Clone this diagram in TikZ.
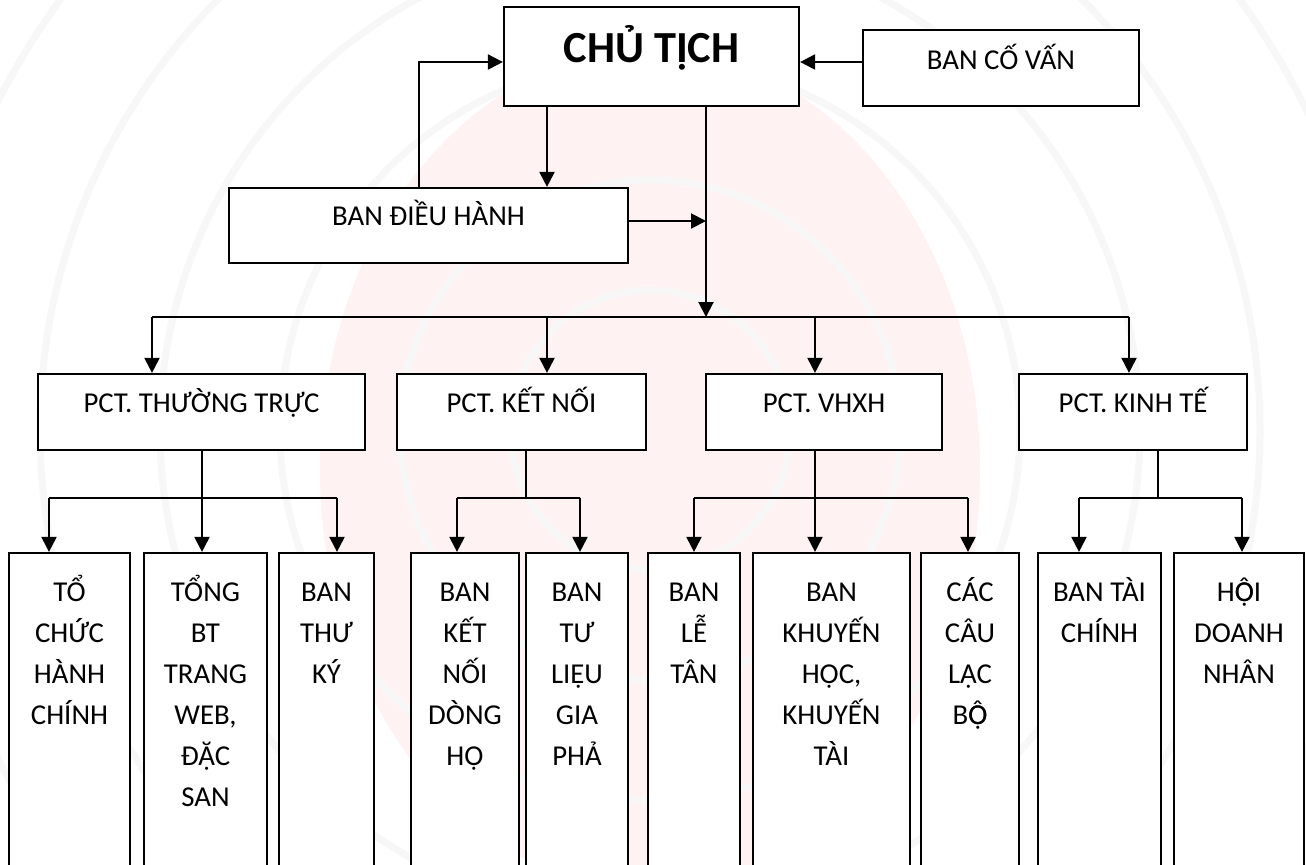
\documentclass[tikz,border=0pt]{standalone}
\usepackage{fontspec}
\setmainfont{Carlito}
\usetikzlibrary{arrows.meta}
\newcommand{\Ocd}{\ooalign{Ô\cr Ọ}}
\tikzset{
  box/.style={draw=black, line width=1.1pt, fill=white, rectangle, inner sep=0pt},
  conn/.style={draw=black, line width=1pt},
  arr/.style={conn, -{Triangle[length=7.5pt,width=7.5pt]}},
  lbl/.style={font=\fontsize{14.4}{20.5}\selectfont, inner sep=0pt, anchor=base, align=center},
  big/.style={font=\bfseries\fontsize{22.2}{26}\selectfont, inner sep=0pt, anchor=base},
  wm/.style={line width=3.5pt, draw=gray!6},
}
\begin{document}
\begin{tikzpicture}[x=0.5pt,y=-0.5pt]
\useasboundingbox (0,0) rectangle (1306,864);
\clip (0,0) rectangle (1306,864);
% background watermark
\fill[white] (0,0) rectangle (1306,864);
\fill[red!5] (650,470) ellipse (330 and 420);
\foreach \r in {140,250,370,490,610,730}
  \draw[wm] (650,430) circle (\r);

% top level
\node[box, minimum width=147.5pt, minimum height=49.5pt] (chu) at (651.5,56.5) {};
\node[big] (chut) at (651.5,62) {CHỦ TỊCH};
\node[box, minimum width=138pt, minimum height=38pt] (covan) at (1001,68) {};
\node[lbl] (covant) at (1001,69) {BAN CỐ VẤN};
\node[box, minimum width=199.5pt, minimum height=37.5pt] (dh) at (428.5,225.5) {};
\node[lbl] (dht) at (428.5,225) {BAN ĐIỀU HÀNH};

% PCT level
\node[box, minimum width=163.5pt, minimum height=38pt] (p1) at (201.5,412) {};
\node[lbl] (p1t) at (201.5,412) {PCT. THƯỜNG TRỰC};
\node[box, minimum width=124.5pt, minimum height=38pt] (p2) at (521.5,412) {};
\node[lbl] (p2t) at (521.5,412) {PCT. KẾT NỐI};
\node[box, minimum width=118pt, minimum height=38pt] (p3) at (824,412) {};
\node[lbl] (p3t) at (824,412) {PCT. VHXH};
\node[box, minimum width=114pt, minimum height=38pt] (p4) at (1133,412) {};
\node[lbl] (p4t) at (1133,412) {PCT. KINH TẾ};

% bottom level
\node[box, minimum width=60.5pt, minimum height=163.5pt] (b1) at (69.5,716.5) {};
\node[box, minimum width=61.5pt, minimum height=163.5pt] (b2) at (205.5,716.5) {};
\node[box, minimum width=47.5pt, minimum height=163.5pt] (b3) at (326.5,716.5) {};
\node[box, minimum width=54pt, minimum height=163.5pt] (b4) at (465,716.5) {};
\node[box, minimum width=51pt, minimum height=163.5pt] (b5) at (577,716.5) {};
\node[box, minimum width=46pt, minimum height=163.5pt] (b6) at (694,716.5) {};
\node[box, minimum width=78.5pt, minimum height=163.5pt] (b7) at (831.5,716.5) {};
\node[box, minimum width=49pt, minimum height=163.5pt] (b8) at (970,716.5) {};
\node[box, minimum width=61.5pt, minimum height=163.5pt] (b9) at (1099.5,716.5) {};
\node[box, minimum width=65pt, minimum height=163.5pt] (b10) at (1239,716.5) {};

% multi-line labels: base anchor is the last line's baseline (first line at y=601, step 41)
\node[lbl] (b1t) at (69.5,724) {TỔ\\CHỨC\\HÀNH\\CHÍNH};
\node[lbl] (b2t) at (205.5,806) {TỔNG\\BT\\TRANG\\WEB,\\ĐẶC\\SAN};
\node[lbl] (b3t) at (326.5,683) {BAN\\THƯ\\KÝ};
\node[lbl] (b4t) at (465,765) {BAN\\KẾT\\NỐI\\DÒNG\\HỌ};
\node[lbl] (b5t) at (577,765) {BAN\\TƯ\\LIỆU\\GIA\\PHẢ};
\node[lbl] (b6t) at (694,683) {BAN\\LỄ\\TÂN};
\node[lbl] (b7t) at (831.5,765) {BAN\\KHUYẾN\\HỌC,\\KHUYẾN\\TÀI};
\node[lbl] (b8t) at (970,724) {CÁC\\CÂU\\LẠC\\B\Ocd};
\node[lbl] (b9t) at (1099.5,642) {BAN TÀI\\CHÍNH};
\node[lbl] (b10t) at (1239,683) {H\Ocd I\\DOANH\\NHÂN};

% helper coordinates
\coordinate (yc) at (0,62);
\coordinate (xl) at (419,0);
\coordinate (xa) at (547,0);
\coordinate (yd) at (0,221);
\coordinate (hub) at (706,317);
\coordinate (j1) at (152,317);
\coordinate (j2) at (547,317);
\coordinate (j3) at (815,317);
\coordinate (j4) at (1129,317);

% top connectors
\draw[arr] (covan.west |- yc) -- (chu.east |- yc);
\draw[arr] (dh.north -| xl) |- (chu.west |- yc);
\draw[arr] (chu.south -| xa) -- (dh.north -| xa);
\draw[arr] (chu.south -| hub) -- (hub);
\draw[arr] (dh.east |- yd) -- (hub |- yd);

% main bus
\draw[conn] (j1) -- (j4);
\draw[arr] (j1) -- (j1 |- p1.north);
\draw[arr] (j2) -- (j2 |- p2.north);
\draw[arr] (j3) -- (j3 |- p3.north);
\draw[arr] (j4) -- (j4 |- p4.north);

% sub buses
\coordinate (s1a) at (49,498);
\coordinate (s1b) at (202,498);
\coordinate (s1c) at (337,498);
\draw[conn] (s1a) -- (s1c);
\draw[arr] (p1.south -| s1b) -- (s1b |- b2.north);
\draw[arr] (s1a) -- (s1a |- b1.north);
\draw[arr] (s1c) -- (s1c |- b3.north);

\coordinate (s2a) at (457,498);
\coordinate (s2m) at (526,498);
\coordinate (s2b) at (580,498);
\draw[conn] (s2a) -- (s2b);
\draw[conn] (p2.south -| s2m) -- (s2m);
\draw[arr] (s2a) -- (s2a |- b4.north);
\draw[arr] (s2b) -- (s2b |- b5.north);

\coordinate (s3a) at (694,498);
\coordinate (s3m) at (815,498);
\coordinate (s3b) at (968,498);
\draw[conn] (s3a) -- (s3b);
\draw[arr] (p3.south -| s3m) -- (s3m |- b7.north);
\draw[arr] (s3a) -- (s3a |- b6.north);
\draw[arr] (s3b) -- (s3b |- b8.north);

\coordinate (s4a) at (1079,498);
\coordinate (s4m) at (1158,498);
\coordinate (s4b) at (1242,498);
\draw[conn] (s4a) -- (s4b);
\draw[conn] (p4.south -| s4m) -- (s4m);
\draw[arr] (s4a) -- (s4a |- b9.north);
\draw[arr] (s4b) -- (s4b |- b10.north);
\end{tikzpicture}
\end{document}
